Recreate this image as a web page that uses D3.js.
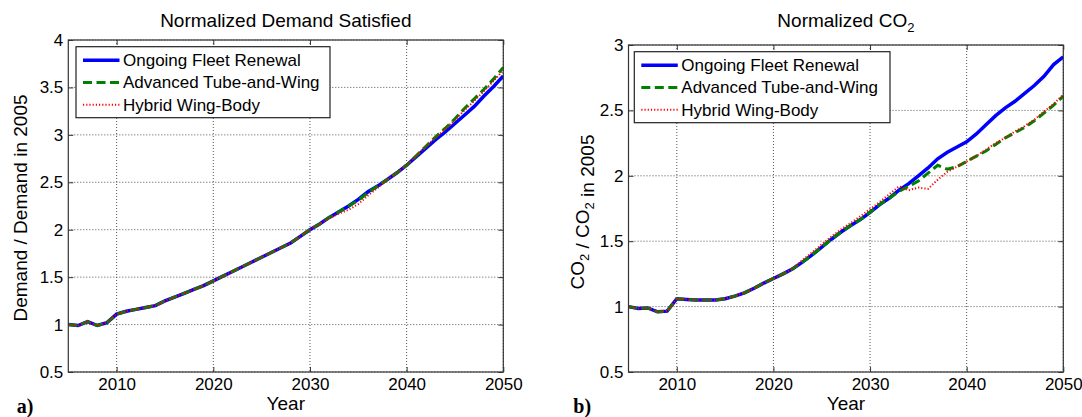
<!DOCTYPE html>
<html>
<head>
<meta charset="utf-8">
<style type="text/css">
body { margin: 0; background: #fff; }
text { font-family: "Liberation Sans", Arial, sans-serif; fill: #000; }
.grid line { stroke: #555; stroke-width: 1; stroke-dasharray: 1,2; }
.tick text { font-size: 17px; font-family: "Liberation Sans", Arial, sans-serif; }
.tick line { stroke: #333; }
.frame { fill: none; stroke: #333; stroke-width: 1.2; }
.tag { font-family: "Liberation Serif", "Times New Roman", serif; font-weight: bold; font-size: 20px; }
</style>
<script src="https://cdn.jsdelivr.net/npm/d3@7"></script>
</head>
<body>
<script type="text/javascript">
var years = [2005, 2006, 2007, 2008, 2009, 2010, 2011, 2012, 2013, 2014,
  2015, 2016, 2017, 2018, 2019, 2020, 2021, 2022, 2023, 2024,
  2025, 2026, 2027, 2028, 2029, 2030, 2031, 2032, 2033, 2034,
  2035, 2036, 2037, 2038, 2039, 2040, 2041, 2042, 2043, 2044,
  2045, 2046, 2047, 2048, 2049, 2050];

var seriesNames = ["Ongoing Fleet Renewal", "Advanced Tube-and-Wing", "Hybrid Wing-Body"];

// demand, normalized to 2005
var demandOFR = [1.00, 0.99, 1.03, 0.99, 1.02, 1.11, 1.14, 1.16, 1.18, 1.20,
  1.25, 1.29, 1.33, 1.37, 1.41, 1.46, 1.51, 1.56, 1.61, 1.66,
  1.71, 1.76, 1.81, 1.86, 1.93, 2.00, 2.06, 2.13, 2.19, 2.25,
  2.32, 2.40, 2.46, 2.53, 2.60, 2.68, 2.77, 2.86, 2.95, 3.03,
  3.12, 3.21, 3.30, 3.41, 3.51, 3.62];
var demandATW = [1.00, 0.99, 1.03, 0.99, 1.02, 1.11, 1.14, 1.16, 1.18, 1.20,
  1.25, 1.29, 1.33, 1.37, 1.41, 1.46, 1.51, 1.56, 1.61, 1.66,
  1.71, 1.76, 1.81, 1.86, 1.93, 2.00, 2.06, 2.13, 2.19, 2.25,
  2.31, 2.39, 2.46, 2.53, 2.60, 2.68, 2.78, 2.88, 2.98, 3.07,
  3.17, 3.28, 3.38, 3.48, 3.59, 3.71];
var demandHWB = [1.00, 0.99, 1.03, 0.99, 1.02, 1.11, 1.14, 1.16, 1.18, 1.20,
  1.25, 1.29, 1.33, 1.37, 1.41, 1.46, 1.51, 1.56, 1.61, 1.66,
  1.71, 1.76, 1.81, 1.86, 1.93, 2.00, 2.06, 2.12, 2.17, 2.21,
  2.27, 2.36, 2.44, 2.53, 2.60, 2.68, 2.78, 2.88, 2.97, 3.06,
  3.16, 3.26, 3.36, 3.46, 3.57, 3.68];

// CO2, normalized to 2005
var co2OFR = [1.00, 0.985, 0.99, 0.96, 0.965, 1.06, 1.055, 1.05, 1.05, 1.05,
  1.06, 1.08, 1.105, 1.14, 1.18, 1.215, 1.25, 1.29, 1.34, 1.395,
  1.455, 1.515, 1.57, 1.62, 1.665, 1.72, 1.78, 1.83, 1.89, 1.94,
  2.00, 2.06, 2.13, 2.18, 2.22, 2.26, 2.32, 2.39, 2.46, 2.52,
  2.57, 2.63, 2.69, 2.76, 2.85, 2.91];
var co2ATW = [1.00, 0.985, 0.99, 0.96, 0.965, 1.06, 1.055, 1.05, 1.05, 1.05,
  1.06, 1.08, 1.105, 1.14, 1.18, 1.215, 1.25, 1.29, 1.34, 1.395,
  1.455, 1.515, 1.57, 1.62, 1.665, 1.72, 1.78, 1.83, 1.88, 1.92,
  1.96, 2.02, 2.08, 2.05, 2.07, 2.11, 2.15, 2.19, 2.24, 2.29,
  2.33, 2.37, 2.42, 2.48, 2.54, 2.61];
var co2HWB = [1.00, 0.985, 0.99, 0.96, 0.965, 1.06, 1.055, 1.05, 1.05, 1.05,
  1.06, 1.08, 1.105, 1.14, 1.18, 1.215, 1.25, 1.29, 1.355, 1.415,
  1.475, 1.535, 1.59, 1.64, 1.69, 1.745, 1.80, 1.86, 1.92, 1.89,
  1.91, 1.90, 1.97, 2.03, 2.07, 2.11, 2.15, 2.20, 2.25, 2.29,
  2.34, 2.38, 2.43, 2.49, 2.55, 2.62];

var xTicks = [2010, 2020, 2030, 2040, 2050];
var demandTicks = [0.5, 1, 1.5, 2, 2.5, 3, 3.5, 4];
var co2Ticks = [0.5, 1, 1.5, 2, 2.5, 3];

var styles = [
  { color: "#0000ff", width: 3.5, dash: null },
  { color: "#008000", width: 3, dash: "9,4.5" },
  { color: "#ff0000", width: 2, dash: "1.2,2" }
];

var svg = d3.select("body").append("svg").attr("width", 1082).attr("height", 417);

function panel(p, idx) {
  var x = d3.scaleLinear().domain([2005, 2050]).range([p.left, p.right]);
  var y = d3.scaleLinear().domain([p.yTicks[0], p.yTicks[p.yTicks.length - 1]]).range([p.bottom, p.top]);
  var g = svg.append("g");

  // grid
  var grid = g.append("g").attr("class", "grid");
  grid.selectAll(".gx").data(xTicks).enter().append("line")
    .attr("x1", function(d) { return x(d); }).attr("x2", function(d) { return x(d); })
    .attr("y1", p.top).attr("y2", p.bottom);
  grid.selectAll(".gy").data(p.yTicks).enter().append("line")
    .attr("x1", p.left).attr("x2", p.right)
    .attr("y1", function(d) { return y(d); }).attr("y2", function(d) { return y(d); });

  // axes, ticks inward on all four sides
  var fmt = function(d) { return String(d); };
  g.append("g").attr("transform", "translate(0," + p.bottom + ")")
    .call(d3.axisBottom(x).tickValues(xTicks).tickSize(-5).tickSizeOuter(0).tickPadding(6).tickFormat(fmt));
  g.append("g").attr("transform", "translate(0," + p.top + ")")
    .call(d3.axisTop(x).tickValues(xTicks).tickSize(-5).tickSizeOuter(0).tickFormat(""));
  g.append("g").attr("transform", "translate(" + p.left + ",0)")
    .call(d3.axisLeft(y).tickValues(p.yTicks).tickSize(-5).tickSizeOuter(0).tickPadding(5).tickFormat(fmt));
  g.append("g").attr("transform", "translate(" + p.right + ",0)")
    .call(d3.axisRight(y).tickValues(p.yTicks).tickSize(-5).tickSizeOuter(0).tickFormat(""));
  g.selectAll(".domain").remove();
  g.selectAll(".tick text").attr("fill", "#000");

  // lines
  var clipId = "clip" + idx;
  svg.append("clipPath").attr("id", clipId).append("rect")
    .attr("x", p.left).attr("y", p.top).attr("width", p.right - p.left).attr("height", p.bottom - p.top);
  var line = d3.line()
    .x(function(d, i) { return x(years[i]); })
    .y(function(d) { return y(d); });
  p.series.forEach(function(s, k) {
    g.append("path").datum(s)
      .attr("clip-path", "url(#" + clipId + ")")
      .attr("fill", "none")
      .attr("stroke", styles[k].color)
      .attr("stroke-width", styles[k].width)
      .attr("stroke-dasharray", styles[k].dash)
      .attr("d", line);
  });

  g.append("rect").attr("class", "frame")
    .attr("x", p.left).attr("y", p.top).attr("width", p.right - p.left).attr("height", p.bottom - p.top);

  // legend
  var lg = g.append("g").attr("transform", "translate(" + p.legX + "," + p.legY + ")");
  lg.append("rect").attr("width", p.legW).attr("height", 71)
    .attr("fill", "#fff").attr("stroke", "#222").attr("stroke-width", 1.2);
  seriesNames.forEach(function(name, k) {
    var cy = 13.5 + k * 22.3;
    lg.append("line").attr("x1", 7).attr("x2", 43.5).attr("y1", cy).attr("y2", cy)
      .attr("stroke", styles[k].color).attr("stroke-width", styles[k].width)
      .attr("stroke-dasharray", styles[k].dash);
    lg.append("text").attr("x", 47).attr("y", cy + 6).style("font-size", "17px").text(name);
  });

  // title
  var cx = (p.left + p.right) / 2;
  var t = g.append("text").attr("x", cx).attr("y", 27.3).attr("text-anchor", "middle").style("font-size", "19px");
  p.title(t);

  // x label
  g.append("text").attr("x", cx).attr("y", 410).attr("text-anchor", "middle").style("font-size", "19px").text("Year");

  // y label
  var yl = g.append("text")
    .attr("transform", "translate(" + p.ylabX + "," + p.ylabY + ") rotate(-90)")
    .attr("text-anchor", "middle").style("font-size", "19px");
  p.ylabel(yl);

  g.append("text").attr("class", "tag").attr("x", p.tagX).attr("y", 412.7).text(p.tag);
}

function sub(sel, base, s) {
  sel.append("tspan").text(base);
  sel.append("tspan").attr("dy", 5).style("font-size", "13px").text(s);
  sel.append("tspan").attr("dy", -5).text("");
}

panel({
  left: 68.3, right: 503.3, top: 40, bottom: 372,
  yTicks: demandTicks,
  series: [demandOFR, demandATW, demandHWB],
  legX: 76, legY: 46.7, legW: 254,
  ylabX: 26.7, ylabY: 208,
  tag: "a)", tagX: 16.7,
  title: function(t) { t.text("Normalized Demand Satisfied"); },
  ylabel: function(t) { t.text("Demand / Demand in 2005"); }
}, 0);

panel({
  left: 628.5, right: 1063.3, top: 45, bottom: 372,
  yTicks: co2Ticks,
  series: [co2OFR, co2ATW, co2HWB],
  legX: 634.3, legY: 51.7, legW: 255.7,
  ylabX: 584, ylabY: 212,
  tag: "b)", tagX: 573.3,
  title: function(t) { sub(t, "Normalized CO", "2"); },
  ylabel: function(t) {
    sub(t, "CO", "2");
    t.append("tspan").text(" / ");
    sub(t, "CO", "2");
    t.append("tspan").text(" in 2005");
  }
}, 1);
</script>
</body>
</html>
